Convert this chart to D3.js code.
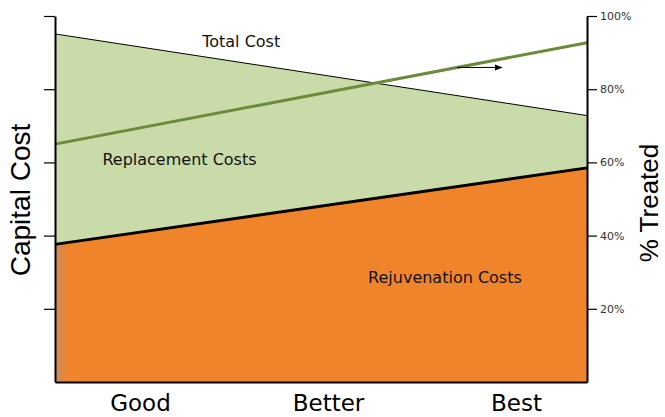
<!DOCTYPE html>
<html>
<head>
<meta charset="utf-8">
<script src="https://cdn.jsdelivr.net/npm/d3@7"></script>
<style>
  body { margin: 0; background: #fff; }
  svg { display: block; }
  .cat-labels text { font-family: "DejaVu Sans", Verdana, sans-serif; font-size: 23px; fill: #000; }
  .pct-axis text { font-family: "DejaVu Sans", Verdana, sans-serif; font-size: 11px; fill: #333; }
  .in-label { font-family: "DejaVu Sans", Verdana, sans-serif; font-size: 16px; fill: #111; }
  .axis-title { font-family: "Liberation Sans", Arial, sans-serif; fill: #000; }
</style>
</head>
<body>
<div id="chart"></div>
<script>
// categories on the bottom axis
var categories = ["Good", "Better", "Best"];

// values at the left and right edge of the plot (in % of the right axis)
var edges = [0, 1];
var totalCost = [95.1, 72.8];
var rejuvenationCost = [37.6, 58.5];
var treated = [65.0, 92.7];

var pctTicks = [20, 40, 60, 80, 100];

var margin = {top: 16, right: 78, bottom: 35, left: 55};
    width = 665 - margin.left - margin.right;
    height = 417 - margin.top - margin.bottom;

var svg = d3.select("#chart")
    .append("svg")
        .attr("width", 665)
        .attr("height", 417)
    .append("g")
        .attr("transform", "translate(" + margin.left + "," + margin.top + ")");

var x = d3.scaleLinear()
    .domain([0, 1])
    .range([0, width]);

var xCat = d3.scalePoint()
    .domain(categories)
    .range([85, 461]);

var y = d3.scaleLinear()
    .domain([0, 100])
    .range([height, 0]);

var rows = edges.map(function(e, i) {
    return {t: e, total: totalCost[i], rej: rejuvenationCost[i], treated: treated[i]};
});

// orange fade at the left edge
var defs = svg.append("defs");
var grad = defs.append("linearGradient")
    .attr("id", "orangeFade")
    .attr("x1", "0").attr("x2", "1").attr("y1", "0").attr("y2", "0");
grad.append("stop").attr("offset", "0").attr("stop-color", "#c98b62");
grad.append("stop").attr("offset", "0.025").attr("stop-color", "#f0842a");
grad.append("stop").attr("offset", "1").attr("stop-color", "#f0842a");

// replacement costs (between rejuvenation and total)
svg.append("path")
    .datum(rows)
    .attr("fill", "#c9dba9")
    .attr("d", d3.area()
        .x(function(d) { return x(d.t); })
        .y0(function(d) { return y(d.rej); })
        .y1(function(d) { return y(d.total); }));

// rejuvenation costs
svg.append("path")
    .datum(rows)
    .attr("fill", "url(#orangeFade)")
    .attr("d", d3.area()
        .x(function(d) { return x(d.t); })
        .y0(y(0))
        .y1(function(d) { return y(d.rej); }));

// total cost line
svg.append("path")
    .datum(rows)
    .attr("fill", "none")
    .attr("stroke", "#000")
    .attr("stroke-width", 1)
    .attr("d", d3.line()
        .x(function(d) { return x(d.t); })
        .y(function(d) { return y(d.total); }));

// boundary line
svg.append("path")
    .datum(rows)
    .attr("fill", "none")
    .attr("stroke", "#000")
    .attr("stroke-width", 3)
    .attr("d", d3.line()
        .x(function(d) { return x(d.t); })
        .y(function(d) { return y(d.rej); }));

// % treated line
svg.append("path")
    .datum(rows)
    .attr("fill", "none")
    .attr("stroke", "#6b8a3a")
    .attr("stroke-width", 3)
    .attr("d", d3.line()
        .x(function(d) { return x(d.t); })
        .y(function(d) { return y(d.treated); }));

// little arrow off the treated line
var arrowFrom = 0.756, arrowTo = 0.84;
var treatedAt = function(t) { return treated[0] + (treated[1] - treated[0]) * t; };
defs.append("marker")
    .attr("id", "arrowHead")
    .attr("viewBox", "0 0 10 10")
    .attr("refX", 9).attr("refY", 5)
    .attr("markerWidth", 8).attr("markerHeight", 8)
    .attr("markerUnits", "userSpaceOnUse")
    .attr("orient", "auto")
  .append("path")
    .attr("d", "M0,1 L10,5 L0,9 z")
    .attr("fill", "#000");

svg.append("line")
    .attr("x1", x(arrowFrom))
    .attr("x2", x(arrowTo))
    .attr("y1", y(treatedAt(arrowFrom)))
    .attr("y2", y(treatedAt(arrowFrom)))
    .attr("stroke", "#000")
    .attr("stroke-width", 1)
    .attr("marker-end", "url(#arrowHead)");

// labels inside the plot
svg.append("text")
    .attr("class", "in-label")
    .attr("x", x(0.35))
    .attr("y", y(91.5))
    .attr("text-anchor", "middle")
    .text("Total Cost");

svg.append("text")
    .attr("class", "in-label")
    .attr("x", x(0.234))
    .attr("y", y(59.3))
    .attr("text-anchor", "middle")
    .text("Replacement Costs");

svg.append("text")
    .attr("class", "in-label")
    .attr("x", x(0.733))
    .attr("y", y(27))
    .attr("text-anchor", "middle")
    .text("Rejuvenation Costs");

// left axis (no labels)
svg.append("g")
    .call(d3.axisLeft(y)
        .tickValues(pctTicks)
        .tickFormat("")
        .tickSize(11)
        .tickSizeOuter(0))
    .call(function(g) {
        g.select(".domain").attr("stroke-width", 2);
        g.selectAll(".tick line").attr("stroke-width", 1.2);
    });

// right axis
svg.append("g")
    .attr("class", "pct-axis")
    .attr("transform", "translate(" + width + ",0)")
    .call(d3.axisRight(y)
        .tickValues(pctTicks)
        .tickFormat(function(d) { return d + "%"; })
        .tickSize(10)
        .tickPadding(3)
        .tickSizeOuter(0))
    .call(function(g) {
        g.select(".domain").attr("stroke-width", 2);
        g.selectAll(".tick line").attr("stroke-width", 1.2);
        g.selectAll(".tick text").attr("font-family", null).attr("font-size", null);
    });

// bottom frame line
svg.append("g")
    .attr("transform", "translate(0," + height + ")")
    .call(d3.axisBottom(x).ticks(0).tickSizeOuter(0))
    .call(function(g) { g.select(".domain").attr("stroke-width", 2); });

// category labels
svg.append("g")
    .attr("class", "cat-labels")
    .attr("transform", "translate(0," + height + ")")
    .call(d3.axisBottom(xCat).tickSize(0).tickPadding(8))
    .call(function(g) {
        g.select(".domain").remove();
        g.selectAll(".tick text")
            .attr("font-family", null).attr("font-size", null)
            .attr("dy", null).attr("y", 29);
    });

// axis titles
svg.append("text")
    .attr("class", "axis-title")
    .attr("transform", "translate(" + (30 - margin.left) + "," + (200 - margin.top) + ") rotate(-90)")
    .attr("text-anchor", "middle")
    .style("font-size", "28px")
    .text("Capital Cost");

svg.append("text")
    .attr("class", "axis-title")
    .attr("transform", "translate(" + (658 - margin.left) + "," + (203 - margin.top) + ") rotate(-90)")
    .attr("text-anchor", "middle")
    .style("font-size", "26px")
    .text("% Treated");
</script>
</body>
</html>
